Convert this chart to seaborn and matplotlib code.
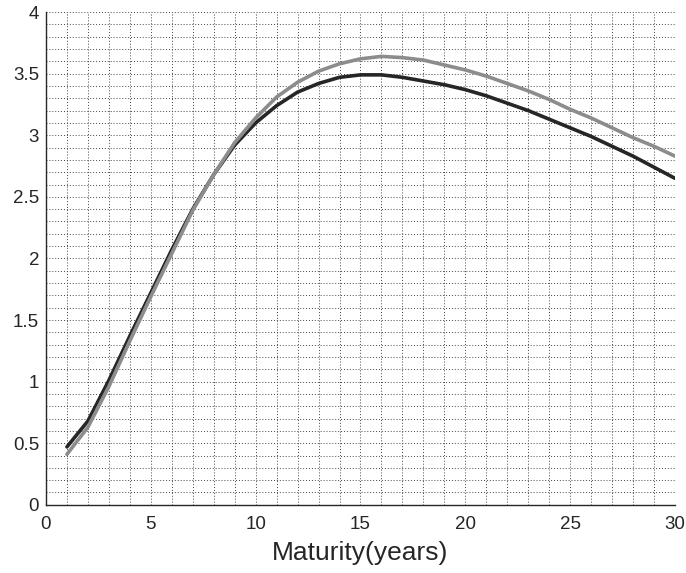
import matplotlib
matplotlib.use("Agg")
import matplotlib.pyplot as plt
from matplotlib.ticker import MultipleLocator
import seaborn as sns
import pandas as pd

# yield curves
maturity = list(range(1, 31))
curve_dark = [0.47, 0.68, 1.01, 1.37, 1.72, 2.07, 2.40, 2.68, 2.92, 3.10,
              3.24, 3.35, 3.42, 3.47, 3.49, 3.49, 3.47, 3.44, 3.41, 3.37,
              3.32, 3.26, 3.20, 3.13, 3.06, 2.99, 2.91, 2.83, 2.74, 2.65]
curve_gray = [0.41, 0.63, 0.96, 1.33, 1.69, 2.04, 2.39, 2.68, 2.94, 3.14,
              3.31, 3.43, 3.52, 3.58, 3.62, 3.64, 3.63, 3.61, 3.57, 3.53,
              3.48, 3.42, 3.36, 3.29, 3.21, 3.14, 3.06, 2.98, 2.91, 2.83]

df = pd.DataFrame({
    "maturity": maturity * 2,
    "value": curve_dark + curve_gray,
    "curve": ["dark"] * 30 + ["gray"] * 30,
})

sns.set_style("white")
plt.rcParams["font.family"] = ["Liberation Sans", "DejaVu Sans"]

fig = plt.figure(figsize=(6.86, 5.73), dpi=100)
ax = fig.add_axes([0.067, 0.119, 0.917, 0.860])

sns.lineplot(data=df, x="maturity", y="value", hue="curve",
             palette={"dark": "#262626", "gray": "#8c8c8c"},
             linewidth=2.6, legend=False, ax=ax, zorder=3)

ax.set_xlim(0, 30)
ax.set_ylim(0, 4)
ax.xaxis.set_major_locator(MultipleLocator(5))
ax.xaxis.set_minor_locator(MultipleLocator(1))
ax.yaxis.set_minor_locator(MultipleLocator(0.1))
ax.set_yticks([0, 0.5, 1, 1.5, 2, 2.5, 3, 3.5, 4])
ax.set_yticklabels(["0", "0.5", "1", "1.5", "2", "2.5", "3", "3.5", "4"])

ax.grid(which="both", linestyle=(0, (1, 2)), color="#444444", linewidth=0.7)
ax.tick_params(which="major", direction="in", length=5, width=0.8,
               labelsize=13.5, colors="#262626")
ax.tick_params(axis="x", which="major", pad=8)
ax.tick_params(axis="y", which="major", pad=5)
ax.tick_params(which="minor", direction="in", length=2.5, width=0.6,
               colors="#262626")
for side in ["top", "right"]:
    ax.spines[side].set_visible(False)
for side in ["left", "bottom"]:
    ax.spines[side].set_color("#262626")
    ax.spines[side].set_linewidth(1.0)

ax.set_xlabel("Maturity(years)", fontsize=19, color="#262626", labelpad=6)
ax.set_ylabel("")

fig.savefig("out.png", dpi=100)
